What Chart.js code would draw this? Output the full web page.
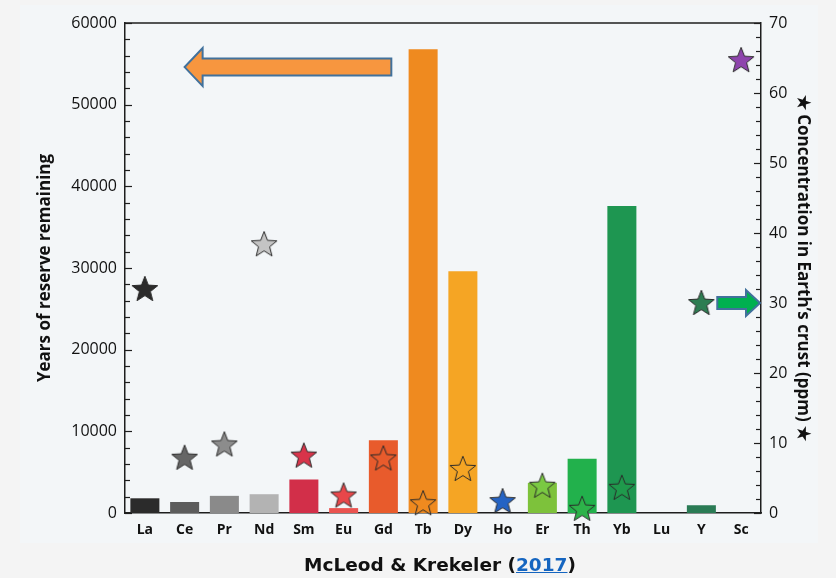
<!DOCTYPE html>
<html>
<head>
<meta charset="utf-8">
<script src="https://cdn.jsdelivr.net/npm/chart.js@4.4.1/dist/chart.umd.min.js"></script>
<style>
  html, body { margin: 0; padding: 0; background: #f4f4f4; }
  #wrap { position: relative; width: 836px; height: 578px; overflow: hidden; }
  #paper { position: absolute; left: 20px; top: 5px; width: 798px; height: 538px; background: #f3f6f8; }
  #chart { position: absolute; left: 0; top: 0; }
  #caption { position: absolute; left: 0; width: 880px; top: 554px; text-align: center;
    font-family: "DejaVu Sans", sans-serif; font-weight: bold; font-size: 18.5px; color: #111; }
  #caption a { color: #1565c0; text-decoration: underline; }
</style>
</head>
<body>
<div id="wrap">
  <div id="paper"></div>
  <canvas id="chart" width="836" height="578"></canvas>
  <div id="caption">McLeod &amp; Krekeler (<a href="#">2017</a>)</div>
</div>
<script>
// elements on the x axis
const elements = ['La', 'Ce', 'Pr', 'Nd', 'Sm', 'Eu', 'Gd', 'Tb', 'Dy', 'Ho', 'Er', 'Th', 'Yb', 'Lu', 'Y', 'Sc'];
// years of reserve remaining (bars, left axis)
const reserveYears = [1800, 1350, 2100, 2300, 4100, 600, 8900, 56800, 29600, null, 3700, 6650, 37600, null, 950, null];
// concentration in earth's crust, ppm (stars, right axis)
const crustPpm = [32, 7.9, 9.8, 38.4, 8.2, 2.5, 7.8, 1.4, 6.3, 1.7, 3.9, 0.6, 3.6, null, 30, 64.7];

const barColors = ['#2b2b2b', '#5c5c5c', '#8a8a8a', '#b3b3b3', '#d22f49', '#ea5350', '#e85b2c', '#ef8a1f', '#f5a524',
  '#000000', '#7dc23b', '#22b14c', '#1e9651', '#000000', '#2a7b55', '#000000'];
const starColors = ['#2b2b2b', '#666666', '#8c8c8c', '#c4c4c4', '#d8344a', '#e8474a', 'rgba(0,0,0,0)', 'rgba(0,0,0,0)', 'rgba(0,0,0,0)',
  '#2463c4', '#7ac943', '#2db34a', '#1f9a4c', '#000000', '#2d7d52', '#8e44ad'];

function makeStar(fill) {
  const c = document.createElement('canvas');
  c.width = 30; c.height = 30;
  const g = c.getContext('2d');
  g.beginPath();
  for (let i = 0; i < 10; i++) {
    const r = i % 2 === 0 ? 13.5 : 5.8;
    const a = -Math.PI / 2 + i * Math.PI / 5;
    const px = 15 + r * Math.cos(a), py = 15.8 + r * Math.sin(a);
    if (i === 0) g.moveTo(px, py); else g.lineTo(px, py);
  }
  g.closePath();
  g.fillStyle = fill;
  g.fill();
  g.lineWidth = 1;
  g.strokeStyle = '#2a2a2a';
  g.stroke();
  return c;
}
const starImages = starColors.map(makeStar);

function drawArrow(ctx, x0, x1, y, bodyH, headH, headL, fill) {
  // arrow from x0 (tail) to x1 (tip)
  const dir = x1 > x0 ? 1 : -1;
  const xb = x1 - dir * headL;
  ctx.beginPath();
  ctx.moveTo(x0, y - bodyH);
  ctx.lineTo(xb, y - bodyH);
  ctx.lineTo(xb, y - headH);
  ctx.lineTo(x1, y);
  ctx.lineTo(xb, y + headH);
  ctx.lineTo(xb, y + bodyH);
  ctx.lineTo(x0, y + bodyH);
  ctx.closePath();
  ctx.fillStyle = fill;
  ctx.fill();
  ctx.lineWidth = 2;
  ctx.strokeStyle = '#41719c';
  ctx.stroke();
}

const extras = {
  id: 'extras',
  afterDatasetsDraw(chart) {
    const ctx = chart.ctx;
    const x = chart.scales.x, y = chart.scales.y, y2 = chart.scales.y2;
    const a = chart.chartArea;
    ctx.save();
    ctx.strokeStyle = '#1e1e1e';
    ctx.lineWidth = 1.5;
    // top frame line
    ctx.beginPath();
    ctx.moveTo(a.left, a.top);
    ctx.lineTo(a.right, a.top);
    ctx.stroke();
    // inward ticks
    ctx.lineWidth = 1.2;
    for (let v = 0; v <= 60000; v += 2000) {
      const py = Math.round(y.getPixelForValue(v)) + 0.5;
      const len = v % 10000 === 0 ? 7 : 5;
      ctx.beginPath(); ctx.moveTo(a.left, py); ctx.lineTo(a.left + len, py); ctx.stroke();
    }
    for (let v = 0; v <= 70; v += 2) {
      const py = Math.round(y2.getPixelForValue(v)) + 0.5;
      const len = v % 10 === 0 ? 7 : 5;
      ctx.beginPath(); ctx.moveTo(a.right, py); ctx.lineTo(a.right - len, py); ctx.stroke();
    }
    // annotation arrows
    drawArrow(ctx, x.getPixelForValue(6.2), x.getPixelForValue(1), y.getPixelForValue(54600), 8.5, 19, 18, '#f7963f');
    drawArrow(ctx, x.getPixelForValue(14.4), a.right - 1, y2.getPixelForValue(30), 6, 13, 14, '#00b050');
    ctx.restore();
  }
};

new Chart(document.getElementById('chart'), {
  data: {
    labels: elements,
    datasets: [{
      type: 'line',
      label: 'Concentration (ppm)',
      data: crustPpm,
      yAxisID: 'y2',
      showLine: false,
      pointStyle: starImages,
      pointRadius: 13,
      clip: false,
      order: 1
    }, {
      type: 'bar',
      label: 'Years of reserve remaining',
      data: reserveYears,
      yAxisID: 'y',
      backgroundColor: barColors,
      borderWidth: 0,
      barPercentage: 0.73,
      categoryPercentage: 1,
      order: 2
    }]
  },
  plugins: [extras],
  options: {
    responsive: false,
    animation: false,
    layout: { padding: { left: 20, right: 0, top: 23, bottom: 0 } },
    plugins: { legend: { display: false }, tooltip: { enabled: false } },
    scales: {
      x: {
        grid: { display: false },
        border: { display: true, color: '#1e1e1e', width: 1.5 },
        ticks: { color: '#111', padding: 1, font: { family: 'Open Sans', weight: 'bold', size: 14 } },
        afterFit: s => { s.height = 65; }
      },
      y: {
        position: 'left',
        min: 0, max: 60000,
        grid: { display: false },
        border: { display: true, color: '#1e1e1e', width: 1.5 },
        ticks: { stepSize: 10000, color: '#111', padding: 0, font: { family: 'Open Sans', size: 16 },
          callback: v => String(v) },
        title: { display: true, text: 'Years of reserve remaining', color: '#111', padding: { top: 15, bottom: 0 },
          font: { family: 'Open Sans', weight: 'bold', size: 17 } },
        afterFit: s => { s.width = 105; }
      },
      y2: {
        position: 'right',
        min: 0, max: 70,
        grid: { display: false },
        border: { display: true, color: '#1e1e1e', width: 1.5 },
        ticks: { stepSize: 10, color: '#111', padding: 0, font: { family: 'Open Sans', size: 16 },
          callback: v => String(v) },
        title: { display: true, text: '\u2605 Concentration in Earth\u2019s crust (ppm) \u2605', color: '#111', padding: { top: 23, bottom: 0 },
          font: { family: 'Open Sans', weight: 'bold', size: 17 } },
        afterFit: s => { s.width = 75; }
      }
    }
  }
});
</script>
</body>
</html>
